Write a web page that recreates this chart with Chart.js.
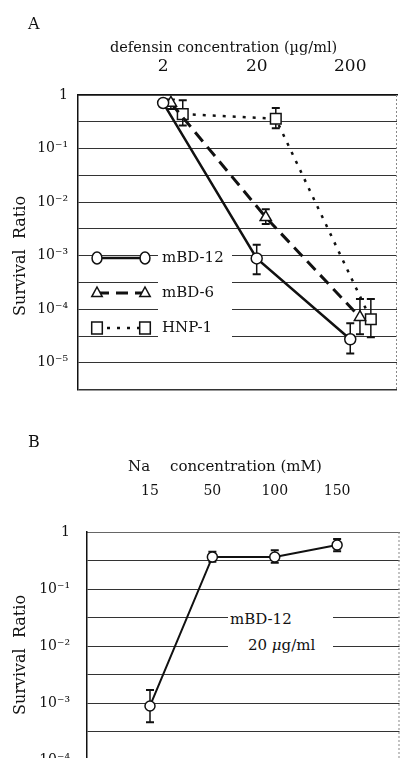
<!DOCTYPE html>
<html lang="en">
<head>
<meta charset="UTF-8" />
<title>Survival ratio - defensin and Na concentration</title>
<script src="https://cdn.jsdelivr.net/npm/chart.js"></script>
<style>
  html, body { margin: 0; padding: 0; background: #fff; }
  body {
    width: 406px; height: 758px; overflow: hidden; position: relative;
    font-family: 'DejaVu Serif', serif; color: #111;
  }
  .panel { position: absolute; left: 0; width: 406px; }
  /* chart bottoms: A at 389px, B at 788px (below the visible page, as in the scan) */
  #panelA { top: 0; height: 408px; }
  #panelB { top: 400px; height: 414px; }
  .txt { position: absolute; white-space: pre; line-height: 1; }
  .ylab {
    position: absolute; white-space: pre; line-height: 1; font-size: 16px;
    transform: translate(-50%, -50%) rotate(-90deg);
  }
  .note {
    position: absolute; left: 228px; top: 607px; width: 105px; height: 52px;
    background: #fff;
  }
</style>
</head>
<body>
  <div class="panel" id="panelA"><canvas id="chartA"></canvas></div>
  <div class="panel" id="panelB"><canvas id="chartB"></canvas></div>

  <div class="txt" style="left:28px; top:16px; font-size:16px;">A</div>
  <div class="txt" style="left:110px; top:40px; font-size:14.5px;">defensin concentration (µg/ml)</div>
  <div class="ylab" style="left:20px; top:256px;">Survival  Ratio</div>

  <div class="txt" style="left:28px; top:434px; font-size:16px;">B</div>
  <div class="txt" style="left:128px; top:459px; font-size:15px;">Na</div>
  <div class="txt" style="left:170px; top:459px; font-size:15px;">concentration (mM)</div>
  <div class="ylab" style="left:20px; top:655px;">Survival  Ratio</div>
  <div class="note">
    <div class="txt" style="left:2px; top:5px; font-size:15px;">mBD-12</div>
    <div class="txt" style="left:20px; top:31px; font-size:15px;">20 <i>μ</i>g/ml</div>
  </div>

<script>
// ---- panel A: survival vs defensin concentration ----
const defensinTicks = [2, 20, 200];
const defensinTickLabels = ['2', '20', '200'];

// x positions as plotted (the three series are drawn slightly apart)
const xMBD12 = [2, 20, 200];
const xMBD6 = [2.42, 25, 254];
const xHNP1 = [3.24, 32, 332];

const survMBD12 = [0.71, 8.9e-4, 2.75e-5];
const lowMBD12 = [0.62, 4.5e-4, 1.5e-5];
const highMBD12 = [0.80, 1.6e-3, 5.5e-5];

const survMBD6 = [0.71, 5.2e-3, 7.1e-5];
const lowMBD6 = [0.55, 3.9e-3, 3.4e-5];
const highMBD6 = [0.82, 7.4e-3, 1.55e-4];

const survHNP1 = [0.44, 0.36, 6.5e-5];
const lowHNP1 = [0.27, 0.24, 3.0e-5];
const highHNP1 = [0.80, 0.57, 1.55e-4];

const yTickValuesA = [1, 1e-1, 1e-2, 1e-3, 1e-4, 1e-5];
const yTickLabelsA = ['1', '10⁻¹', '10⁻²', '10⁻³', '10⁻⁴', '10⁻⁵'];

// ---- panel B: survival vs Na concentration (mBD-12, 20 ug/ml) ----
const naConc = ['15', '50', '100', '150'];
const survNa = [8.9e-4, 0.365, 0.365, 0.59];
const lowNa = [4.6e-4, 0.30, 0.29, 0.46];
const highNa = [1.7e-3, 0.45, 0.48, 0.75];

const yTickValuesB = [1, 1e-1, 1e-2, 1e-3, 1e-4];
const yTickLabelsB = ['1', '10⁻¹', '10⁻²', '10⁻³', '10⁻⁴'];

Chart.defaults.font.family = "'DejaVu Serif', serif";
Chart.defaults.color = '#111';
Chart.defaults.animation = false;

const INK = '#111';

// decades plus half-decade gridlines down to the axis minimum
function gridValues(decades, min) {
  const out = [];
  decades.forEach(d => { out.push(d); out.push(d / Math.sqrt(10)); });
  return out.filter(v => v >= min * 0.999);
}

function labelFor(values, labels) {
  return v => {
    const i = values.findIndex(t => Math.abs(Math.log10(t) - Math.log10(v)) < 1e-6);
    return i >= 0 ? labels[i] : '';
  };
}

function drawMarker(ctx, style, x, y, r) {
  ctx.save();
  ctx.setLineDash([]);
  ctx.fillStyle = '#fff';
  ctx.strokeStyle = INK;
  ctx.lineWidth = 1.5;
  ctx.beginPath();
  if (style === 'circle') {
    ctx.ellipse(x, y, r * 0.9, r * 1.1, 0, 0, Math.PI * 2);
  } else if (style === 'triangle') {
    ctx.moveTo(x, y - r);
    ctx.lineTo(x + r * 0.87, y + r * 0.6);
    ctx.lineTo(x - r * 0.87, y + r * 0.6);
    ctx.closePath();
  } else {
    const s = r * Math.SQRT1_2;
    ctx.rect(x - s, y - s * 1.15, 2 * s, 2.3 * s);
  }
  ctx.fill();
  ctx.stroke();
  ctx.restore();
}

const errorBars = {
  id: 'errorBars',
  beforeDatasetsDraw(chart) {
    const { ctx, chartArea } = chart;
    const ys = chart.scales.y;
    ctx.save();
    // dotted right edge of the frame
    ctx.strokeStyle = '#888';
    ctx.lineWidth = 1;
    ctx.setLineDash([2, 2]);
    ctx.beginPath();
    ctx.moveTo(chartArea.right - 0.5, chartArea.top);
    ctx.lineTo(chartArea.right - 0.5, chartArea.bottom);
    ctx.stroke();
    ctx.setLineDash([]);
    ctx.strokeStyle = INK;
    chart.data.datasets.forEach((ds, i) => {
      if (!ds.errLow) return;
      const meta = chart.getDatasetMeta(i);
      meta.data.forEach((pt, j) => {
        const top = ys.getPixelForValue(ds.errHigh[j]);
        const bot = ys.getPixelForValue(ds.errLow[j]);
        ctx.lineWidth = 1.5;
        ctx.beginPath();
        ctx.moveTo(pt.x, top); ctx.lineTo(pt.x, bot);
        ctx.stroke();
        ctx.lineWidth = 2;
        ctx.beginPath();
        ctx.moveTo(pt.x - 4, top); ctx.lineTo(pt.x + 4, top);
        ctx.moveTo(pt.x - 4, bot); ctx.lineTo(pt.x + 4, bot);
        ctx.stroke();
      });
    });
    ctx.restore();
  }
};

const legendA = {
  id: 'legendA',
  afterDraw(chart) {
    const ctx = chart.ctx;
    ctx.save();
    ctx.fillStyle = '#fff';
    ctx.fillRect(158, 246, 74, 94);
    chart.data.datasets.forEach((ds, i) => {
      const y = 258 + i * 35;
      ctx.strokeStyle = INK;
      ctx.lineWidth = ds.borderWidth;
      ctx.setLineDash(ds.borderDash || []);
      ctx.beginPath();
      ctx.moveTo(97, y); ctx.lineTo(145, y);
      ctx.stroke();
      drawMarker(ctx, ds.pointStyle, 97, y, ds.legendR);
      drawMarker(ctx, ds.pointStyle, 145, y, ds.legendR);
      ctx.fillStyle = INK;
      ctx.font = "15px 'DejaVu Serif'";
      ctx.textBaseline = 'middle';
      ctx.fillText(ds.label, 162, y);
    });
    ctx.restore();
  }
};

function series(label, xs, ys, lo, hi, style) {
  return Object.assign({
    label,
    data: xs.map((x, i) => ({ x, y: ys[i] })),
    errLow: lo,
    errHigh: hi,
    borderColor: INK,
    pointBackgroundColor: '#fff',
    pointBorderColor: INK,
    pointBorderWidth: 1.5,
    fill: false,
    tension: 0
  }, style);
}

function yAxis(values, labels, min, width, pad, topGridColor) {
  return {
    type: 'logarithmic',
    min, max: 1,
    afterBuildTicks: s => { s.ticks = gridValues(values, min).map(v => ({ value: v })); },
    afterFit: s => { s.width = width; },
    ticks: {
      callback: labelFor(values, labels),
      font: { size: 14 },
      color: INK,
      padding: pad,
      autoSkip: false
    },
    grid: {
      drawTicks: false,
      color: c => (c.tick && Math.abs(c.tick.value - 1) < 1e-9) ? topGridColor : '#333',
      lineWidth: c => (c.tick && (Math.abs(c.tick.value - 1) < 1e-9 || c.tick.value < min * 1.01)) ? 1.5 : 1
    },
    border: { display: true, color: INK, width: 1.5 }
  };
}

new Chart(document.getElementById('chartA'), {
  type: 'line',
  data: {
    datasets: [
      series('mBD-12', xMBD12, survMBD12, lowMBD12, highMBD12,
        { borderWidth: 2.5, pointStyle: 'circle', pointRadius: 5.5, legendR: 5.5 }),
      series('mBD-6', xMBD6, survMBD6, lowMBD6, highMBD6,
        { borderWidth: 3, borderDash: [12, 7], pointStyle: 'triangle', pointRadius: 6.5, legendR: 6 }),
      series('HNP-1', xHNP1, survHNP1, lowHNP1, highHNP1,
        { borderWidth: 2.5, borderDash: [3, 7], pointStyle: 'rect', pointRadius: 7.5, legendR: 7.5 })
    ]
  },
  options: {
    responsive: true,
    maintainAspectRatio: false,
    layout: { padding: { left: 0, top: 0, right: 2, bottom: 0 } },
    plugins: { legend: { display: false }, tooltip: { enabled: false } },
    scales: {
      x: {
        type: 'logarithmic',
        position: 'top',
        min: 0.246, max: 632,
        afterBuildTicks: s => { s.ticks = defensinTicks.map(v => ({ value: v })); },
        afterFit: s => { s.height = 95; },
        ticks: {
          callback: v => defensinTickLabels[defensinTicks.indexOf(v)] ?? '',
          font: { size: 17 },
          color: INK,
          padding: 10,
          maxRotation: 0,
          autoSkip: false
        },
        grid: { display: false },
        border: { display: true, color: INK, width: 1.5 }
      },
      y: yAxis(yTickValuesA, yTickLabelsA, 10 ** -5.5, 78, 10, INK)
    }
  },
  plugins: [errorBars, legendA]
});

new Chart(document.getElementById('chartB'), {
  type: 'line',
  data: {
    datasets: [
      series('mBD-12', naConc.map((_, i) => i), survNa, lowNa, highNa,
        { borderWidth: 2, pointStyle: 'circle', pointRadius: 5 })
    ]
  },
  options: {
    responsive: true,
    maintainAspectRatio: false,
    layout: { padding: { left: 0, top: 0, right: 2, bottom: 0 } },
    plugins: { legend: { display: false }, tooltip: { enabled: false } },
    scales: {
      x: {
        type: 'linear',
        position: 'top',
        min: -1.01, max: 4.0,
        afterBuildTicks: s => { s.ticks = naConc.map((_, i) => ({ value: i })); },
        afterFit: s => { s.height = 132; },
        ticks: {
          callback: v => naConc[v] ?? '',
          font: { size: 14 },
          color: INK,
          padding: 24,
          maxRotation: 0,
          autoSkip: false
        },
        grid: { display: false },
        border: { display: true, color: '#666', width: 1, dash: [2, 2] }
      },
      y: yAxis(yTickValuesB, yTickLabelsB, 10 ** -4.5, 87, 17, 'rgba(0,0,0,0)')
    }
  },
  plugins: [errorBars]
});
</script>
</body>
</html>
